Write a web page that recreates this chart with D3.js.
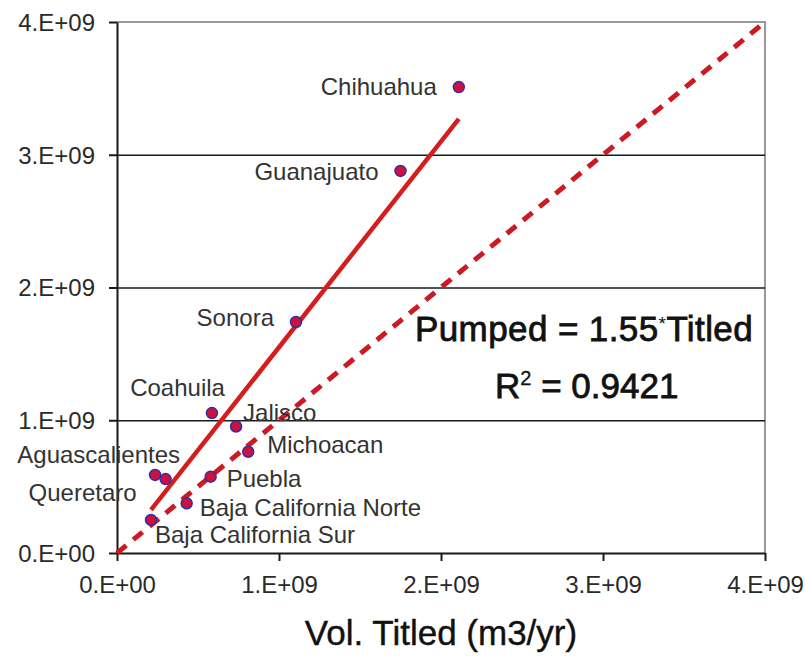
<!DOCTYPE html>
<html>
<head>
<meta charset="utf-8">
<script src="https://cdn.jsdelivr.net/npm/d3@7"></script>
<style>
  body { margin: 0; background: #fff; }
  svg { font-family: "Liberation Sans", Arial, sans-serif; }
</style>
</head>
<body>
<div id="chart"></div>
<script>

// data

const states = ["Chihuahua", "Guanajuato", "Sonora", "Coahuila", "Jalisco", "Michoacan",
  "Aguascalientes", "Queretaro", "Puebla", "Baja California Norte", "Baja California Sur"];
const titled = [2.11e9, 1.75e9, 1.105e9, 0.586e9, 0.735e9, 0.81e9, 0.235e9, 0.30e9, 0.578e9, 0.43e9, 0.21e9];
const pumped = [3.51e9, 2.878e9, 1.74e9, 1.054e9, 0.953e9, 0.763e9, 0.588e9, 0.557e9, 0.575e9, 0.374e9, 0.249e9];
const slope = 1.55;
const rSquared = 0.9421;
const xTicks = [0, 1e9, 2e9, 3e9, 4e9];
const yTicks = [0, 1e9, 2e9, 3e9, 4e9];
const xTitle = "Vol. Titled (m3/yr)";

// constants

const width = 805;
const height = 656;
const margin = {top: 22, right: 40, bottom: 103, left: 117};

const data = states.map((s, i) => ({name: s, x: titled[i], y: pumped[i]}));

const fmt = d => d === 0 ? "0.E+00" : `${d / 1e9}.E+09`;

// scales

const xScale = d3.scaleLinear()
  .domain([0, 4e9])
  .range([margin.left, width - margin.right]);

const yScale = d3.scaleLinear()
  .domain([0, 4e9])
  .range([height - margin.bottom, margin.top]);

const svg = d3.select("#chart")
  .append("svg")
  .attr("width", width)
  .attr("height", height);

// plot border (top + right are grey)

svg.append("path")
  .attr("d", `M${xScale(0)},${yScale(4e9)} H${xScale(4e9)} V${yScale(0)}`)
  .attr("fill", "none")
  .attr("stroke", "#999")
  .attr("stroke-width", 2);

// gridlines

const grid = svg.append("g")
  .attr("transform", `translate(${margin.left}, 0)`)
  .call(d3.axisLeft(yScale).tickValues(yTicks.slice(1, -1))
    .tickSize(-(width - margin.left - margin.right)).tickFormat(""));
grid.select(".domain").remove();
grid.selectAll("line").attr("stroke", "#1a1a1a").attr("stroke-width", 1.5);

// axes

const xAxisGroup = svg.append("g")
  .attr("transform", `translate(0, ${height - margin.bottom})`)
  .call(d3.axisBottom(xScale).tickValues(xTicks).tickFormat(fmt)
    .tickSize(8).tickSizeOuter(0).tickPadding(14));

const yAxisGroup = svg.append("g")
  .attr("transform", `translate(${margin.left}, 0)`)
  .call(d3.axisLeft(yScale).tickValues(yTicks).tickFormat(fmt)
    .tickSize(8).tickSizeOuter(0).tickPadding(14));

[xAxisGroup, yAxisGroup].forEach(g => {
  g.select(".domain").attr("stroke", "#1a1a1a").attr("stroke-width", 2);
  g.selectAll(".tick line").attr("stroke", "#1a1a1a").attr("stroke-width", 2);
  g.selectAll(".tick text")
    .attr("font-size", 24)
    .attr("fill", "#2a2a2a")
    .attr("font-family", "Liberation Sans, Arial, sans-serif");
});
yAxisGroup.selectAll(".tick text").attr("dy", "0.35em");
xAxisGroup.selectAll(".tick text").attr("dy", "0.75em");

// 1:1 line (dashed)

svg.append("line")
  .attr("x1", xScale(0)).attr("y1", yScale(0))
  .attr("x2", xScale(4e9)).attr("y2", yScale(4e9))
  .attr("stroke", "#cc1a24")
  .attr("stroke-width", 5)
  .attr("stroke-dasharray", "12,9");

// trend line

const [xMin, xMax] = d3.extent(titled);
const lineGen = d3.line()
  .x(d => xScale(d))
  .y(d => yScale(slope * d));

svg.append("path")
  .datum([xMin, xMax])
  .attr("d", lineGen)
  .attr("fill", "none")
  .attr("stroke", "#d41e1e")
  .attr("stroke-width", 4.5);

// points

svg.selectAll(".dot")
  .data(data)
  .join("circle")
  .attr("class", "dot")
  .attr("cx", d => xScale(d.x))
  .attr("cy", d => yScale(d.y))
  .attr("r", 5.5)
  .attr("fill", "#cc1040")
  .attr("stroke", "#3030a0")
  .attr("stroke-width", 1.5);

// labels, placed by hand next to each point

const labelLayout = {
  "Chihuahua": [-22, 0, "end"],
  "Guanajuato": [-22, 1, "end"],
  "Sonora": [-22, -4, "end"],
  "Coahuila": [13, -25, "end"],
  "Jalisco": [7, -14, "start"],
  "Michoacan": [19, -7, "start"],
  "Aguascalientes": [25, -20, "end"],
  "Queretaro": [-29, 14, "end"],
  "Puebla": [16, 2, "start"],
  "Baja California Norte": [13, 4, "start"],
  "Baja California Sur": [4, 15, "start"]
};

svg.selectAll(".label")
  .data(data)
  .join("text")
  .attr("class", "label")
  .attr("x", d => xScale(d.x) + labelLayout[d.name][0])
  .attr("y", d => yScale(d.y) + labelLayout[d.name][1])
  .attr("dy", "0.35em")
  .attr("text-anchor", d => labelLayout[d.name][2])
  .attr("font-size", 24)
  .attr("fill", "#333")
  .text(d => d.name);

// equation (regular face, thickened a bit like the original)

const eq = svg.append("text")
  .attr("x", 415)
  .attr("y", 341)
  .attr("font-size", 35)
  .attr("letter-spacing", 0.4)
  .attr("fill", "#111")
  .attr("stroke", "#111")
  .attr("stroke-width", 0.8);
eq.append("tspan").text(`Pumped = ${slope}`);
eq.append("tspan").attr("font-size", 19).attr("stroke-width", 0).attr("dy", -11).text("*");
eq.append("tspan").attr("dy", 11).attr("stroke-width", 0.8).text("Titled");

const r2 = svg.append("text")
  .attr("x", 495)
  .attr("y", 398)
  .attr("font-size", 35)
  .attr("fill", "#111")
  .attr("stroke", "#111")
  .attr("stroke-width", 0.8);
r2.append("tspan").text("R");
r2.append("tspan").attr("font-size", 20).attr("stroke-width", 0.3).attr("dy", -13).text("2");
r2.append("tspan").attr("dy", 13).attr("stroke-width", 0.8).text(` = ${rSquared}`);

// x axis title

svg.append("text")
  .attr("x", (margin.left + width - margin.right) / 2)
  .attr("y", 645)
  .attr("text-anchor", "middle")
  .attr("font-size", 35)
  .attr("fill", "#111")
  .attr("stroke", "#111")
  .attr("stroke-width", 0.4)
  .text(xTitle);

</script>
</body>
</html>
